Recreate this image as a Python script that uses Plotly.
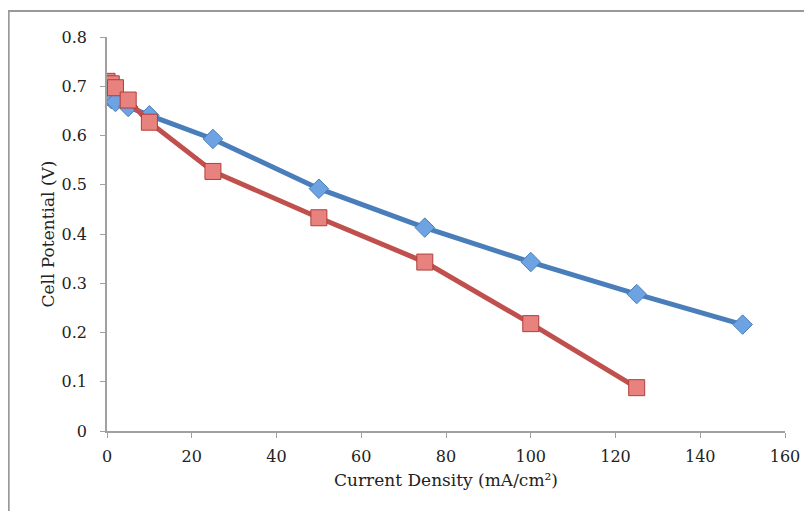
import plotly.graph_objects as go

x_blue = [0, 1, 2, 5, 10, 25, 50, 75, 100, 125, 150]
y_blue = [0.680, 0.674, 0.668, 0.658, 0.641, 0.593, 0.492, 0.413, 0.343, 0.278, 0.216]
x_red = [0, 1, 2, 5, 10, 25, 50, 75, 100, 125]
y_red = [0.710, 0.705, 0.697, 0.672, 0.627, 0.527, 0.433, 0.343, 0.218, 0.088]

x_ticks = [0, 20, 40, 60, 80, 100, 120, 140, 160]
y_ticks = [0, 0.1, 0.2, 0.3, 0.4, 0.5, 0.6, 0.7, 0.8]
y_tick_text = ["0", "0.1", "0.2", "0.3", "0.4", "0.5", "0.6", "0.7", "0.8"]

font_fam = "DejaVu Serif, Liberation Serif, serif"

fig = go.Figure()
fig.add_trace(go.Scatter(
    x=x_blue, y=y_blue, mode="lines+markers",
    line=dict(color="#4a7ebb", width=5),
    marker=dict(symbol="diamond", size=15, color="#6ea3e3",
                line=dict(color="#4a7ebb", width=1)),
    showlegend=False))
fig.add_trace(go.Scatter(
    x=x_red, y=y_red, mode="lines+markers",
    line=dict(color="#c0504d", width=5),
    marker=dict(symbol="square", size=16, color="#e8827f",
                line=dict(color="#b03e3b", width=1)),
    showlegend=False))

fig.update_layout(
    width=812, height=511,
    margin=dict(l=99, r=35, t=29, b=88),
    paper_bgcolor="white", plot_bgcolor="white",
    font=dict(family=font_fam, size=15, color="#222"),
    xaxis=dict(range=[0, 160], tickvals=x_ticks, ticktext=[str(v) for v in x_ticks],
               showgrid=False, zeroline=False, showline=True, linecolor="#a0a0a0",
               linewidth=1.5, ticks="outside", ticklen=5, tickcolor="#a0a0a0",
               ticklabelstandoff=5,
               tickfont=dict(size=16, family=font_fam),
               title=dict(text="Current Density (mA/cm²)", font=dict(size=17, family=font_fam), standoff=9)),
    yaxis=dict(range=[0, 0.8], tickvals=y_ticks, ticktext=y_tick_text,
               showgrid=False, zeroline=False, showline=True, linecolor="#a0a0a0",
               linewidth=1.5, ticks="outside", ticklen=5, tickcolor="#a0a0a0",
               ticklabelstandoff=10,
               tickfont=dict(size=16, family=font_fam),
               title=dict(text="Cell Potential (V)", font=dict(size=17, family=font_fam), standoff=3)),
    shapes=[dict(type="rect", xref="paper", yref="paper",
                 x0=-0.145, x1=1.5, y0=-0.5, y1=1.066,
                 line=dict(color="#999999", width=2), fillcolor="rgba(0,0,0,0)", layer="below")],
)

fig.write_html("out.html")
